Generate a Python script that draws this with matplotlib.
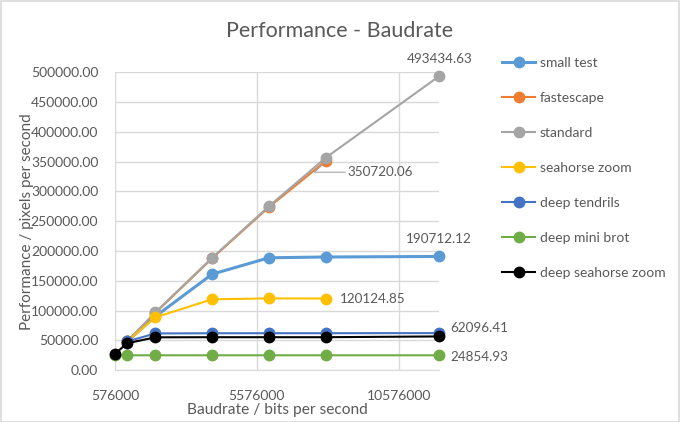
import matplotlib
matplotlib.use("Agg")
import matplotlib.pyplot as plt
from matplotlib.patches import Rectangle
from matplotlib.ticker import MultipleLocator, FuncFormatter

plt.rcParams['font.family'] = ['Lato', 'DejaVu Sans']

# baudrates (bits per second)
baud_full = [576000, 1000000, 2000000, 4000000, 6000000, 8000000, 12000000]
baud_1m = [1000000, 2000000, 4000000, 6000000, 8000000, 12000000]
baud_1m_8m = [1000000, 2000000, 4000000, 6000000, 8000000]
x_ticks = [576000, 5576000, 10576000]

small_test = [48000, 90000, 161000, 188500, 189800, 190712.12]
fastescape = [48000, 96000, 187500, 273500, 350720.06]
standard = [48000, 97000, 188500, 275000, 356300, 493434.63]
seahorse_zoom = [48000, 88500, 118800, 120300, 120124.85]
deep_tendrils = [48000, 61500, 61800, 61900, 61900, 62096.41]
deep_mini_brot = [24854, 24850, 24850, 24854, 24854, 24854, 24854.93]
deep_seahorse_zoom = [27000, 45000, 55000, 55200, 55200, 55200, 56500]

text_col = '#595959'
grid_col = '#D9D9D9'

fig = plt.figure(figsize=(6.8, 4.22), dpi=100)
fig.patches.append(Rectangle((0.001, 0.001), 0.997, 0.997, transform=fig.transFigure,
                             fill=False, edgecolor=grid_col, linewidth=1.2))
ax = fig.add_axes([0.169, 0.123, 0.477, 0.706])

series = [
    ('small test', baud_1m, small_test, '#5B9BD5', 2.2),
    ('fastescape', baud_1m_8m, fastescape, '#ED7D31', 1.5),
    ('standard', baud_1m, standard, '#A5A5A5', 1.5),
    ('seahorse zoom', baud_1m_8m, seahorse_zoom, '#FFC000', 1.5),
    ('deep tendrils', baud_1m, deep_tendrils, '#4472C4', 1.5),
    ('deep mini brot', baud_full, deep_mini_brot, '#70AD47', 1.5),
    ('deep seahorse zoom', baud_full, deep_seahorse_zoom, '#000000', 1.5),
]

for name, xs, ys, col, lw in series:
    ax.plot(xs, ys, color=col, linewidth=lw, marker='o', markersize=7.5,
            label=name, clip_on=False, zorder=3)

ax.set_xlim(576000, 12000000)
ax.set_ylim(0, 500000)
ax.set_xticks(x_ticks)
ax.set_xticklabels([str(v) for v in x_ticks])
ax.yaxis.set_major_locator(MultipleLocator(50000))
ax.yaxis.set_major_formatter(FuncFormatter(lambda v, p: f'{v:.2f}'))
ax.grid(True, color=grid_col, linewidth=1)
ax.set_axisbelow(True)
for s in ['top', 'right', 'left']:
    ax.spines[s].set_visible(False)
ax.spines['bottom'].set_color(grid_col)
ax.tick_params(length=0, labelsize=10, colors=text_col)
ax.tick_params(axis='y', pad=12)
ax.tick_params(axis='x', pad=14)

fig.suptitle('Performance - Baudrate', x=0.5, y=0.95, fontsize=15.5, color=text_col)
ax.set_xlabel('Baudrate / bits per second', fontsize=11.2, color=text_col, labelpad=1)
ax.set_ylabel('Performance / pixels per second', fontsize=11, color=text_col, labelpad=-2)

lbl = dict(fontsize=9.7, color=text_col)
ax.annotate(f'{standard[-1]:.2f}', (baud_1m[-1], standard[-1]), xytext=(0, 8),
            textcoords='offset points', ha='center', va='bottom', annotation_clip=False, **lbl)
ax.annotate(f'{small_test[-1]:.2f}', (baud_1m[-1], small_test[-1]), xytext=(0, 8),
            textcoords='offset points', ha='center', va='bottom', annotation_clip=False, **lbl)
ax.annotate(f'{fastescape[-1]:.2f}', (baud_1m_8m[-1], fastescape[-1]), xytext=(16, -8),
            textcoords='offset points', ha='left', va='center', annotation_clip=False,
            arrowprops=dict(arrowstyle='-', color='#A5A5A5', lw=0.8,
                            connectionstyle='angle,angleA=0,angleB=45', shrinkA=0, shrinkB=3), **lbl)
ax.annotate(f'{seahorse_zoom[-1]:.2f}', (baud_1m_8m[-1], seahorse_zoom[-1]), xytext=(10, 0),
            textcoords='offset points', ha='left', va='center', annotation_clip=False, **lbl)
ax.annotate(f'{deep_tendrils[-1]:.2f}', (baud_1m[-1], deep_tendrils[-1]), xytext=(8, 4),
            textcoords='offset points', ha='left', va='center', annotation_clip=False, **lbl)
ax.annotate(f'{deep_mini_brot[-1]:.2f}', (baud_full[-1], deep_mini_brot[-1]), xytext=(8, -1),
            textcoords='offset points', ha='left', va='center', annotation_clip=False, **lbl)

leg = fig.legend(loc='upper left', bbox_to_anchor=(0.72, 0.895), frameon=False,
                 fontsize=10, labelspacing=1.66, handlelength=2.4, handletextpad=0.3)
for t in leg.get_texts():
    t.set_color(text_col)

fig.savefig('out.png', dpi=100)
